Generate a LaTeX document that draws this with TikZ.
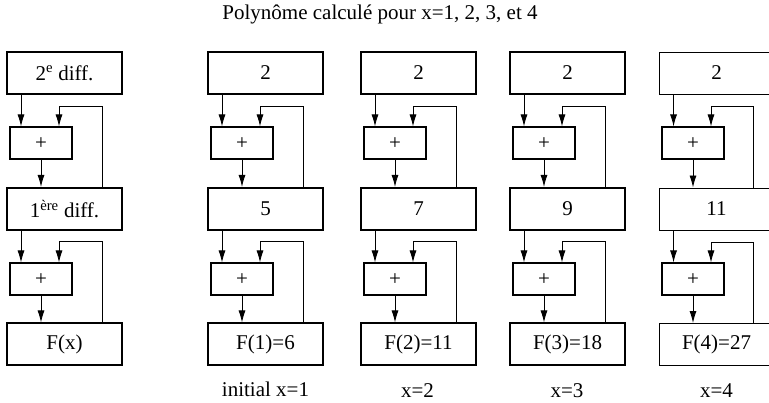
\documentclass[tikz,border=0pt]{standalone}
\usepackage{fontspec}
\setmainfont{Liberation Serif}
\usetikzlibrary{arrows.meta}
\begin{document}
\begin{tikzpicture}[x=1pt,y=-1pt,
  font=\fontsize{21}{25}\selectfont,
  bigbox/.style={draw, minimum width=115pt, minimum height=42pt, inner sep=0pt},
  plusbox/.style={draw, line width=2pt, minimum width=62pt, minimum height=32pt, inner sep=0pt},
  conn/.style={line width=0.9pt},
  arr/.style={conn, -{Latex[length=12pt,width=7pt]}}]
\useasboundingbox (0,0) rectangle (769,403);
\clip (0,0) rectangle (769,403);
\node[anchor=base] (title) at (380,20) {Polynôme calculé pour x=1, 2, 3, et 4};
\foreach \i/\L/\bw/\ta/\tb/\tc in {
  1/7/2pt/{2\textsuperscript{e} diff.}/{1\textsuperscript{ère} diff.}/{F(x)},
  2/208/2pt/2/5/{F(1)=6},
  3/361/2pt/2/7/{F(2)=11},
  4/510/2pt/2/9/{F(3)=18},
  5/659/0.9pt/2/11/{F(4)=27}}{
  \node[bigbox, line width=\bw] (t\i) at ({\L+57.5},73) {\ta};
  \node[plusbox] (p\i) at ({\L+34},143.5) {+};
  \node[bigbox, line width=\bw] (m\i) at ({\L+57.5},209) {\tb};
  \node[plusbox] (q\i) at ({\L+34},279.5) {+};
  \node[bigbox, line width=\bw] (f\i) at ({\L+57.5},344.5) {\tc};
  % first stage
  \draw[arr] ([xshift=15pt]t\i.south west) -- ([xshift=15pt]t\i.south west |- p\i.north);
  \draw[arr] ([xshift=-21pt]m\i.north east) -- ++(0,-81) -| ([xshift=18pt]p\i.north);
  \draw[arr] (p\i.south) -- (p\i.south |- m\i.north);
  % second stage
  \draw[arr] ([xshift=15pt]m\i.south west) -- ([xshift=15pt]m\i.south west |- q\i.north);
  \draw[arr] ([xshift=-21pt]f\i.north east) -- ++(0,-81) -| ([xshift=18pt]q\i.north);
  \draw[arr] (q\i.south) -- (q\i.south |- f\i.north);
}
\node[anchor=base] (l2) at (265.5,397) {initial x=1};
\node[anchor=base] (l3) at (417.5,398) {x=2};
\node[anchor=base] (l4) at (567,398) {x=3};
\node[anchor=base] (l5) at (716.5,398) {x=4};
\end{tikzpicture}
\end{document}
